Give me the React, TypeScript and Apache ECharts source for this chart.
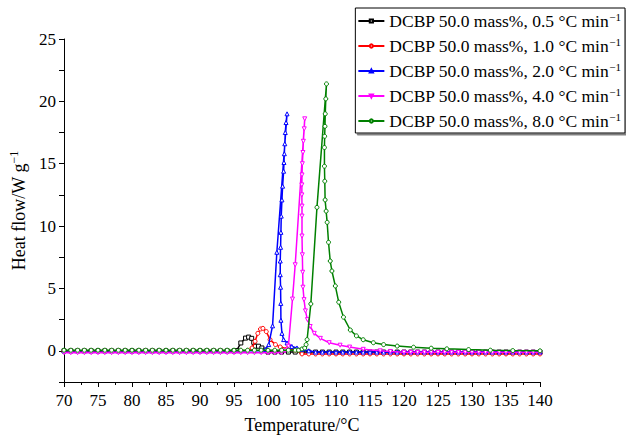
import React, { useEffect, useRef } from 'react';
import * as echarts from 'echarts';

const FONT = '"Liberation Serif", "Times New Roman", serif';

const seriesNames = [
  'DCBP 50.0 mass%, 0.5 °C min',
  'DCBP 50.0 mass%, 1.0 °C min',
  'DCBP 50.0 mass%, 2.0 °C min',
  'DCBP 50.0 mass%, 4.0 °C min',
  'DCBP 50.0 mass%, 8.0 °C min',
];
const superscript = '−1';
const colors = ['#000000', '#ff0000', '#0000ff', '#ff00ff', '#008000'];
const symbols = ['rect', 'circle', 'triangle', 'triangle', 'circle'];
const symbolRotations = [0, 0, 0, 180, 0];

const xTicks = [70, 75, 80, 85, 90, 95, 100, 105, 110, 115, 120, 125, 130, 135, 140];
const yTicks = [0, 5, 10, 15, 20, 25];

// 0.5 °C/min
const temps05 = [70, 71, 72, 73, 74, 75, 76, 77, 78, 79, 80, 81, 82, 83, 84, 85, 86, 87, 88, 89, 90, 91, 92, 93, 94, 95,
  95.4, 96.0, 96.7, 97.15, 97.6, 97.9, 98.1, 98.6, 99.1, 99.6,
  100, 101, 102, 103, 104, 105, 106, 107, 108, 109, 110, 111, 112, 113, 114, 115, 116, 117, 118, 119, 120,
  121, 122, 123, 124, 125, 126, 127, 128, 129, 130, 131, 132, 133, 134, 135, 136, 137, 138, 139, 140];
const flows05 = [0, 0, 0, 0, 0, 0, 0, 0, 0, 0, 0, 0, 0, 0, 0, 0, 0, 0, 0, 0, 0, 0, 0, 0, 0, 0,
  0.02, 0.63, 1.02, 1.1, 1.0, 0.68, 0.37, 0.37, 0.23, 0.05,
  -0.1, -0.1, -0.1, -0.1, -0.1, -0.1, -0.1, -0.1, -0.1, -0.1, -0.1, -0.1, -0.1, -0.1, -0.1, -0.1, -0.1, -0.1, -0.1, -0.1, -0.1,
  -0.1, -0.1, -0.1, -0.1, -0.1, -0.1, -0.1, -0.1, -0.1, -0.1, -0.1, -0.1, -0.1, -0.1, -0.1, -0.1, -0.1, -0.1, -0.1, -0.1];

// 1.0 °C/min
const temps10 = [70, 71, 72, 73, 74, 75, 76, 77, 78, 79, 80, 81, 82, 83, 84, 85, 86, 87, 88, 89, 90, 91, 92, 93, 94, 95, 96, 97,
  97.65, 98.1, 98.5, 98.9, 99.25, 99.75, 100.3, 101.1, 101.8, 102.8, 104,
  105, 106, 107, 108, 109, 110, 111, 112, 113, 114, 115, 116, 117, 118, 119, 120,
  121, 122, 123, 124, 125, 126, 127, 128, 129, 130, 131, 132, 133, 134, 135, 136, 137, 138, 139, 140];
const flows10 = [0, 0, 0, 0, 0, 0, 0, 0, 0, 0, 0, 0, 0, 0, 0, 0, 0, 0, 0, 0, 0, 0, 0, 0, 0, 0, 0, 0,
  0.23, 0.76, 1.4, 1.75, 1.8, 1.54, 0.9, 0.5, 0.31, 0.16, 0.05,
  -0.25, -0.25, -0.25, -0.25, -0.25, -0.25, -0.25, -0.25, -0.25, -0.25, -0.25, -0.25, -0.25, -0.25, -0.25, -0.25,
  -0.25, -0.25, -0.25, -0.25, -0.25, -0.25, -0.25, -0.25, -0.25, -0.25, -0.25, -0.25, -0.25, -0.25, -0.25, -0.25, -0.25, -0.25, -0.25, -0.25];

// 2.0 °C/min
const temps20 = [70, 71, 72, 73, 74, 75, 76, 77, 78, 79, 80, 81, 82, 83, 84, 85, 86, 87, 88, 89, 90, 91, 92, 93, 94, 95, 96, 97, 98, 99,
  99.6, 100.1, 100.67, 101.3, 102.8,
  102.65, 102.54, 102.47, 102.4, 102.35, 102.3, 102.15, 102.05, 101.95, 101.9, 101.85, 101.8, 101.8, 101.85, 101.88, 101.9,
  102.05, 102.3, 102.8, 103.5, 104.26, 105, 106,
  107, 108, 109, 110, 111, 112, 113, 114, 115, 116, 117, 118, 119, 120,
  121, 122, 123, 124, 125, 126, 127, 128, 129, 130, 131, 132, 133, 134, 135, 136, 137, 138, 139, 140];
const flows20 = [0, 0, 0, 0, 0, 0, 0, 0, 0, 0, 0, 0, 0, 0, 0, 0, 0, 0, 0, 0, 0, 0, 0, 0, 0, 0, 0, 0, 0, 0,
  0.1, 0.5, 2.0, 7.9, 19.0,
  18.3, 17.5, 16.6, 15.8, 15.1, 14.4, 13.2, 12.1, 10.8, 9.5, 8.3, 7.2, 6.1, 5.1, 3.8, 2.45,
  1.4, 0.9, 0.63, 0.35, 0.23, 0.1, 0.0,
  -0.1, -0.1, -0.1, -0.1, -0.1, -0.1, -0.1, -0.1, -0.1, -0.1, -0.1, -0.1, -0.1, -0.1,
  -0.1, -0.1, -0.1, -0.1, -0.1, -0.1, -0.1, -0.1, -0.1, -0.1, -0.1, -0.1, -0.1, -0.1, -0.1, -0.1, -0.1, -0.1, -0.1, -0.1];

// 4.0 °C/min
const temps40 = [70, 71, 72, 73, 74, 75, 76, 77, 78, 79, 80, 81, 82, 83, 84, 85, 86, 87, 88, 89, 90, 91, 92, 93, 94, 95, 96, 97, 98, 99, 100, 101, 102,
  102.5, 103.0, 103.6, 104.0, 105.4,
  105.33, 105.2, 105.14, 105.05, 105.0, 104.98, 104.98, 105.0, 105.0, 105.0, 105.05, 105.1, 105.14, 105.3, 105.5,
  105.8, 106.2, 106.8, 107.7, 109.0, 110.6, 112, 114, 116.5, 118,
  120, 121, 122, 123, 124, 125, 126, 127, 128, 129, 130, 131, 132, 133, 134, 135, 136, 137, 138, 139, 140];
const flows40 = [-0.15, -0.15, -0.15, -0.15, -0.15, -0.15, -0.15, -0.15, -0.15, -0.15, -0.15, -0.15, -0.15, -0.15, -0.15, -0.15, -0.15,
  -0.15, -0.15, -0.15, -0.15, -0.15, -0.15, -0.15, -0.15, -0.15, -0.15, -0.15, -0.15, -0.15, -0.15, -0.15, -0.15,
  0.0, 0.37, 4.15, 6.9, 18.6,
  17.8, 16.8, 15.9, 15.0, 14.1, 13.3, 12.5, 11.6, 10.8, 9.2, 7.7, 6.3, 5.1, 4.1, 3.2,
  2.5, 1.95, 1.4, 1.0, 0.65, 0.45, 0.3, 0.12, 0.0, -0.05,
  -0.12, -0.12, -0.12, -0.12, -0.12, -0.12, -0.12, -0.12, -0.12, -0.12, -0.12, -0.12, -0.12, -0.12, -0.12, -0.12, -0.12, -0.12, -0.12, -0.12, -0.12];

// 8.0 °C/min
const temps80 = [70, 71, 72, 73, 74, 75, 76, 77, 78, 79, 80, 81, 82, 83, 84, 85, 86, 87, 88, 89, 90, 91, 92, 93, 94, 95, 96, 97, 98, 99, 100, 101, 102, 103, 104,
  104.5, 105.0, 105.4, 105.6, 105.75, 106.3, 107.2, 108.6,
  108.5, 108.42, 108.38, 108.33, 108.3, 108.3, 108.35, 108.4, 108.55, 108.7, 108.9, 109.15, 109.4, 109.9, 110.4, 111.1, 112.1,
  113.0, 114.0, 115.5, 117.0, 119.0, 121.4, 124, 126.3, 129.5, 132.7, 136, 140];
const flows80 = [0.05, 0.05, 0.05, 0.05, 0.05, 0.05, 0.05, 0.05, 0.05, 0.05, 0.05, 0.05, 0.05, 0.05, 0.05, 0.05, 0.05, 0.05,
  0.05, 0.05, 0.05, 0.05, 0.05, 0.05, 0.05, 0.05, 0.05, 0.05, 0.05, 0.05, 0.05, 0.05, 0.05, 0.05, 0.05,
  0.05, 0.15, 0.23, 0.5, 0.9, 3.76, 11.5, 21.4,
  20.2, 19.0, 18.0, 17.2, 16.3, 14.8, 13.6, 12.1, 11.2, 10.3, 8.7, 7.2, 6.4, 5.2, 3.9, 2.7, 1.67,
  1.2, 0.89, 0.65, 0.5, 0.38, 0.29, 0.21, 0.16, 0.1, 0.05, 0.02, 0.0];

const allTemps = [temps05, temps10, temps20, temps40, temps80];
const allFlows = [flows05, flows10, flows20, flows40, flows80];

export default function App() {
  const ref = useRef<HTMLDivElement>(null);
  useEffect(() => {
    const chart = echarts.init(ref.current!, null, { renderer: 'svg' });
    const series = seriesNames.map((name, i) => ({
      name,
      type: 'line',
      data: allTemps[i].map((t, j) => [t, allFlows[i][j]]),
      color: colors[i],
      showSymbol: true,
      symbol: symbols[i],
      symbolRotate: symbolRotations[i],
      symbolSize: 4,
      lineStyle: { color: colors[i], width: 1.5 },
      itemStyle: { color: '#ffffff', borderColor: colors[i], borderWidth: 1 },
      emphasis: { disabled: true },
      z: 2 + i,
    }));
    chart.setOption({
      animation: false,
      backgroundColor: '#ffffff',
      textStyle: { fontFamily: FONT },
      grid: { left: 63.5, right: 86, top: 39, bottom: 49, containLabel: false },
      legend: {
        orient: 'vertical',
        right: 1,
        top: 8,
        itemWidth: 26,
        itemHeight: 4,
        itemGap: 6,
        padding: [3, 4, 3, 2],
        backgroundColor: '#ffffff',
        borderColor: '#000000',
        borderWidth: 1,
        shadowColor: '#808080',
        shadowOffsetX: 2,
        shadowOffsetY: 2,
        shadowBlur: 0,
        data: seriesNames,
        formatter: (name: string) => `{t|${name}}{s|${superscript}}`,
        textStyle: {
          color: '#000',
          fontFamily: FONT,
          fontSize: 17.5,
          rich: {
            t: { fontSize: 17.5, fontFamily: FONT, color: '#000', lineHeight: 20 },
            s: { fontSize: 11, fontFamily: FONT, color: '#000', verticalAlign: 'top' },
          },
        },
      },
      xAxis: {
        type: 'value',
        min: xTicks[0],
        max: xTicks[xTicks.length - 1],
        interval: 5,
        axisLine: { show: true, onZero: false, lineStyle: { color: '#000', width: 1 } },
        axisTick: { show: true, length: 5, lineStyle: { color: '#000' } },
        minorTick: { show: true, splitNumber: 2, length: 3, lineStyle: { color: '#000' } },
        splitLine: { show: false },
        axisLabel: { color: '#000', fontFamily: FONT, fontSize: 17, margin: 10 },
        name: 'Temperature/°C',
        nameLocation: 'middle',
        nameGap: 34,
        nameTextStyle: { color: '#000', fontFamily: FONT, fontSize: 18 },
      },
      yAxis: {
        type: 'value',
        min: -2.5,
        max: 25,
        interval: 2.5,
        axisLine: { show: true, onZero: false, lineStyle: { color: '#000', width: 1 } },
        axisTick: { show: true, length: 5, lineStyle: { color: '#000' } },
        splitLine: { show: false },
        axisLabel: {
          color: '#000', fontFamily: FONT, fontSize: 17, margin: 8,
          formatter: (v: number) => (yTicks.includes(v) ? String(v) : ''),
        },
        name: `{a|Heat flow/W g}{s|${superscript}}`,
        nameLocation: 'middle',
        nameGap: 34,
        nameTextStyle: {
          color: '#000', fontFamily: FONT, fontSize: 18,
          rich: {
            a: { fontSize: 18, fontFamily: FONT, color: '#000', lineHeight: 22 },
            s: { fontSize: 12, fontFamily: FONT, color: '#000', verticalAlign: 'top' },
          },
        },
      },
      series,
    });
    return () => chart.dispose();
  }, []);
  return <div ref={ref} style={{ position: 'fixed', left: 0, top: 0, width: 626, height: 439 }} />;
}
